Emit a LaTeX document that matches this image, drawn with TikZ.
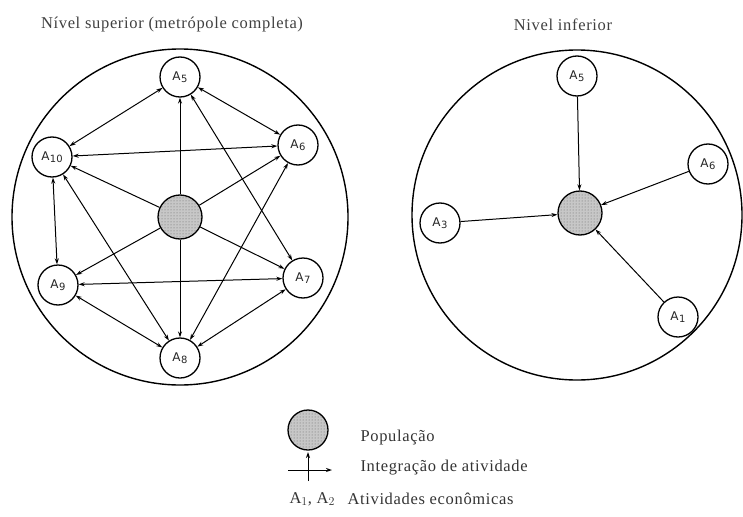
\documentclass[tikz,border=0pt]{standalone}
\usepackage{fontspec}
\setmainfont{Liberation Serif}
\setsansfont{DejaVu Sans}
\usetikzlibrary{arrows.meta,patterns}
\newcommand{\lab}[1]{A\kern0.5pt\raisebox{-2.5pt}{\fontsize{10}{10}\selectfont #1}}
\tikzset{
  act/.style={circle,draw,line width=1.3pt,minimum size=40pt,inner sep=0pt,font=\sffamily\fontsize{12}{12}\selectfont,text=black!85},
  pop/.style={circle,draw,line width=1.3pt,minimum size=44pt,inner sep=0pt,fill=black!22},
  big/.style={draw,line width=1.4pt},
  link/.style={line width=1pt,{Stealth[length=6pt,width=4pt]}-{Stealth[length=6pt,width=4pt]}},
  flow/.style={line width=1pt,-{Stealth[length=6pt,width=4pt]}},
  ttl/.style={font=\addfontfeature{LetterSpace=4}\fontsize{16.5}{16.5}\selectfont,text=black!75},
  leg/.style={font=\addfontfeature{LetterSpace=4}\fontsize{16.5}{16.5}\selectfont,text=black!80,anchor=west},
}
\begin{document}
\begin{tikzpicture}[x=1pt,y=-1pt]
\useasboundingbox (0,0) rectangle (743,516);
% left
\node[ttl] (t1) at (172,25) {Nível superior (metrópole completa)};
\draw[big] (180,217) circle (168);
\node[pop] (p) at (180,217) {};
\fill[pattern=dots,pattern color=black!60] (p.center) circle (21);
\node[act] (a5) at (180,77) {\lab{5}};
\node[act] (a6) at (298,145) {\lab{6}};
\node[act] (a10) at (52,157) {\lab{10}};
\node[act] (a9) at (58,285) {\lab{9}};
\node[act] (a7) at (303,278) {\lab{7}};
\node[act] (a8) at (180,358) {\lab{8}};
\foreach \n in {a5,a6,a7,a8,a9,a10} \draw[flow] (p) -- (\n);
\draw[link] (a5) -- (a10);
\draw[link] (a5) -- (a6);
\draw[link] (a10) -- (a6);
\draw[link] (a10) -- (a9);
\draw[link] (a10) -- (a8);
\draw[link] (a5) -- (a7);
\draw[link] (a6) -- (a8);
\draw[link] (a9) -- (a7);
\draw[link] (a9) -- (a8);
\draw[link] (a8) -- (a7);
% right
\node[ttl] (t2) at (563,25) {Nivel inferior};
\draw[big] (577,215) circle (165);
\node[pop] (q) at (580,213) {};
\fill[pattern=dots,pattern color=black!60] (q.center) circle (21);
\node[act] (b5) at (577,76) {\lab{5}};
\node[act] (b6) at (708,164) {\lab{6}};
\node[act] (b3) at (440,223) {\lab{3}};
\node[act] (b1) at (678,317) {\lab{1}};
\foreach \n in {b5,b6,b3,b1} \draw[flow] (\n) -- (q);
% legend
\node[pop,minimum size=40pt] (lp) at (308,430) {};
\fill[pattern=dots,pattern color=black!60] (lp.center) circle (19);
\coordinate (hl) at (288,470);
\coordinate (hr) at (332,470);
\coordinate (vb) at (308,481);
\coordinate (vt) at (308,452);
\draw[flow] (hl) -- (hr);
\draw[flow] (vb) -- (vt);
\node[leg] (l1) at (357,438) {População};
\node[leg] (l2) at (357,468) {Integração de atividade};
\node[leg] (l3a) at (286,499) {A$_1$, A$_2$};
\node[leg] (l3) at (344,499) {Atividades econômicas};
\end{tikzpicture}
\end{document}
